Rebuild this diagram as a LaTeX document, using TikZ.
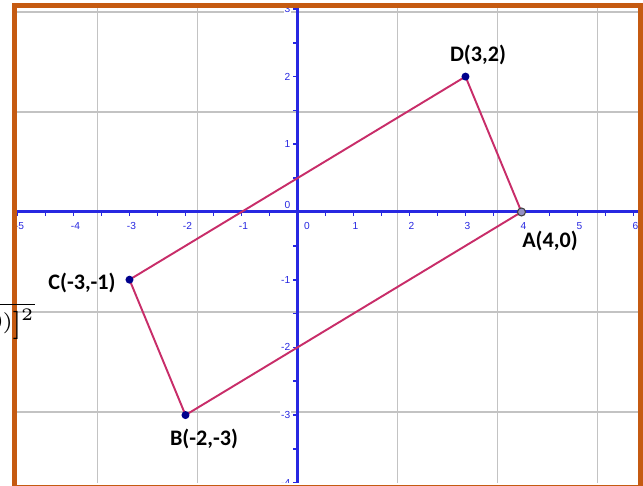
\documentclass[tikz,border=0pt]{standalone}
\usepackage{fontspec}
\newfontfamily\labelfont{Carlito}
\newfontfamily\axisfont{Liberation Sans}
\definecolor{frameorange}{RGB}{197,90,17}
\definecolor{axisblue}{RGB}{40,40,225}
\definecolor{gridgray}{RGB}{195,195,195}
\definecolor{sidecrimson}{RGB}{200,45,105}
\definecolor{dotblue}{RGB}{0,0,140}
\definecolor{dotgray}{RGB}{150,145,195}
\begin{document}
\begin{tikzpicture}[x=0.56cm, y=0.677cm,
    ptlabel/.style={font=\labelfont\bfseries\fontsize{6.3}{7}\selectfont, inner sep=0pt},
    ticklabel/.style={font=\axisfont\fontsize{2.9}{3}\selectfont, text=axisblue, fill=white, inner sep=0.3pt}]

    % Fix the page to the size of the picture
    \useasboundingbox (-2.975cm,-2.74cm) rectangle (3.455cm,2.12cm);

    % Grid, axes, ticks and numbers, kept inside the frame
    \begin{scope}
        \clip (-2.805cm,-2.71cm) rectangle (3.405cm,2.04cm);
        \draw[gridgray, line width=0.4pt] (-5,-4.5) grid (6.5,3.5);
        \draw[axisblue, line width=0.85pt] (-5.5,0) -- (6.5,0);
        \draw[axisblue, line width=0.85pt] (0,-4.5) -- (0,3.5);
        \foreach \t in {-5,-4.5,...,6}
            \draw[axisblue, line width=0.5pt] (\t,0) -- ++(0,-0.045cm);
        \foreach \t in {-4,-3.5,...,3}
            \draw[axisblue, line width=0.5pt] (0,\t) -- ++(-0.045cm,0);
        % numbers on the axes
        \foreach \i in {-5,...,-1,1,2,...,6}
            \node[ticklabel, anchor=north] at ([xshift=0.02cm, yshift=-0.09cm]\i,0) {\i};
        \node[ticklabel, anchor=north] at ([xshift=0.095cm, yshift=-0.09cm]0,0) {0};
        \foreach \j in {-4,...,-1,1,2,3}
            \node[ticklabel, anchor=east] at ([xshift=-0.055cm]0,\j) {\j};
        \node[ticklabel, anchor=south east] at ([xshift=-0.055cm, yshift=0.02cm]0,0) {0};
    \end{scope}

    % The four corners
    \coordinate (A) at (4,0);
    \coordinate (B) at (-2,-3);
    \coordinate (C) at (-3,-1);
    \coordinate (D) at (3,2);

    % Sides of the rectangle
    \draw[sidecrimson, line width=0.55pt] (A) -- (B) -- (C) -- (D) -- cycle;

    % Dots and their names
    \filldraw[fill=dotgray, draw=black!75, line width=0.3pt] (A) circle (0.04cm);
    \fill[dotblue] (B) circle (0.04cm);
    \fill[dotblue] (C) circle (0.04cm);
    \fill[dotblue] (D) circle (0.04cm);
    \node[ptlabel] (Alab) at ([shift={(0.285cm,-0.29cm)}]A) {A(4,0)};
    \node[ptlabel] (Blab) at ([shift={(0.185cm,-0.24cm)}]B) {B(-2,-3)};
    \node[ptlabel] (Clab) at ([shift={(-0.475cm,-0.03cm)}]C) {C(-3,-1)};
    \node[ptlabel] (Dlab) at ([shift={(0.125cm,0.22cm)}]D) {D(3,2)};

    % Orange frame
    \draw[frameorange, line width=0.05cm] (-2.83cm,-2.755cm) rectangle (3.43cm,2.065cm);

    % Piece of a formula at the left edge
    \node[anchor=north east, inner sep=0pt, font=\fontsize{6}{7}\selectfont] (frag)
        at (-2.62cm,-0.895cm)
        {$\overline{0)\raisebox{-1.3pt}{\fontsize{8.5}{9}\selectfont$]$}^{2}}$};

\end{tikzpicture}
\end{document}
